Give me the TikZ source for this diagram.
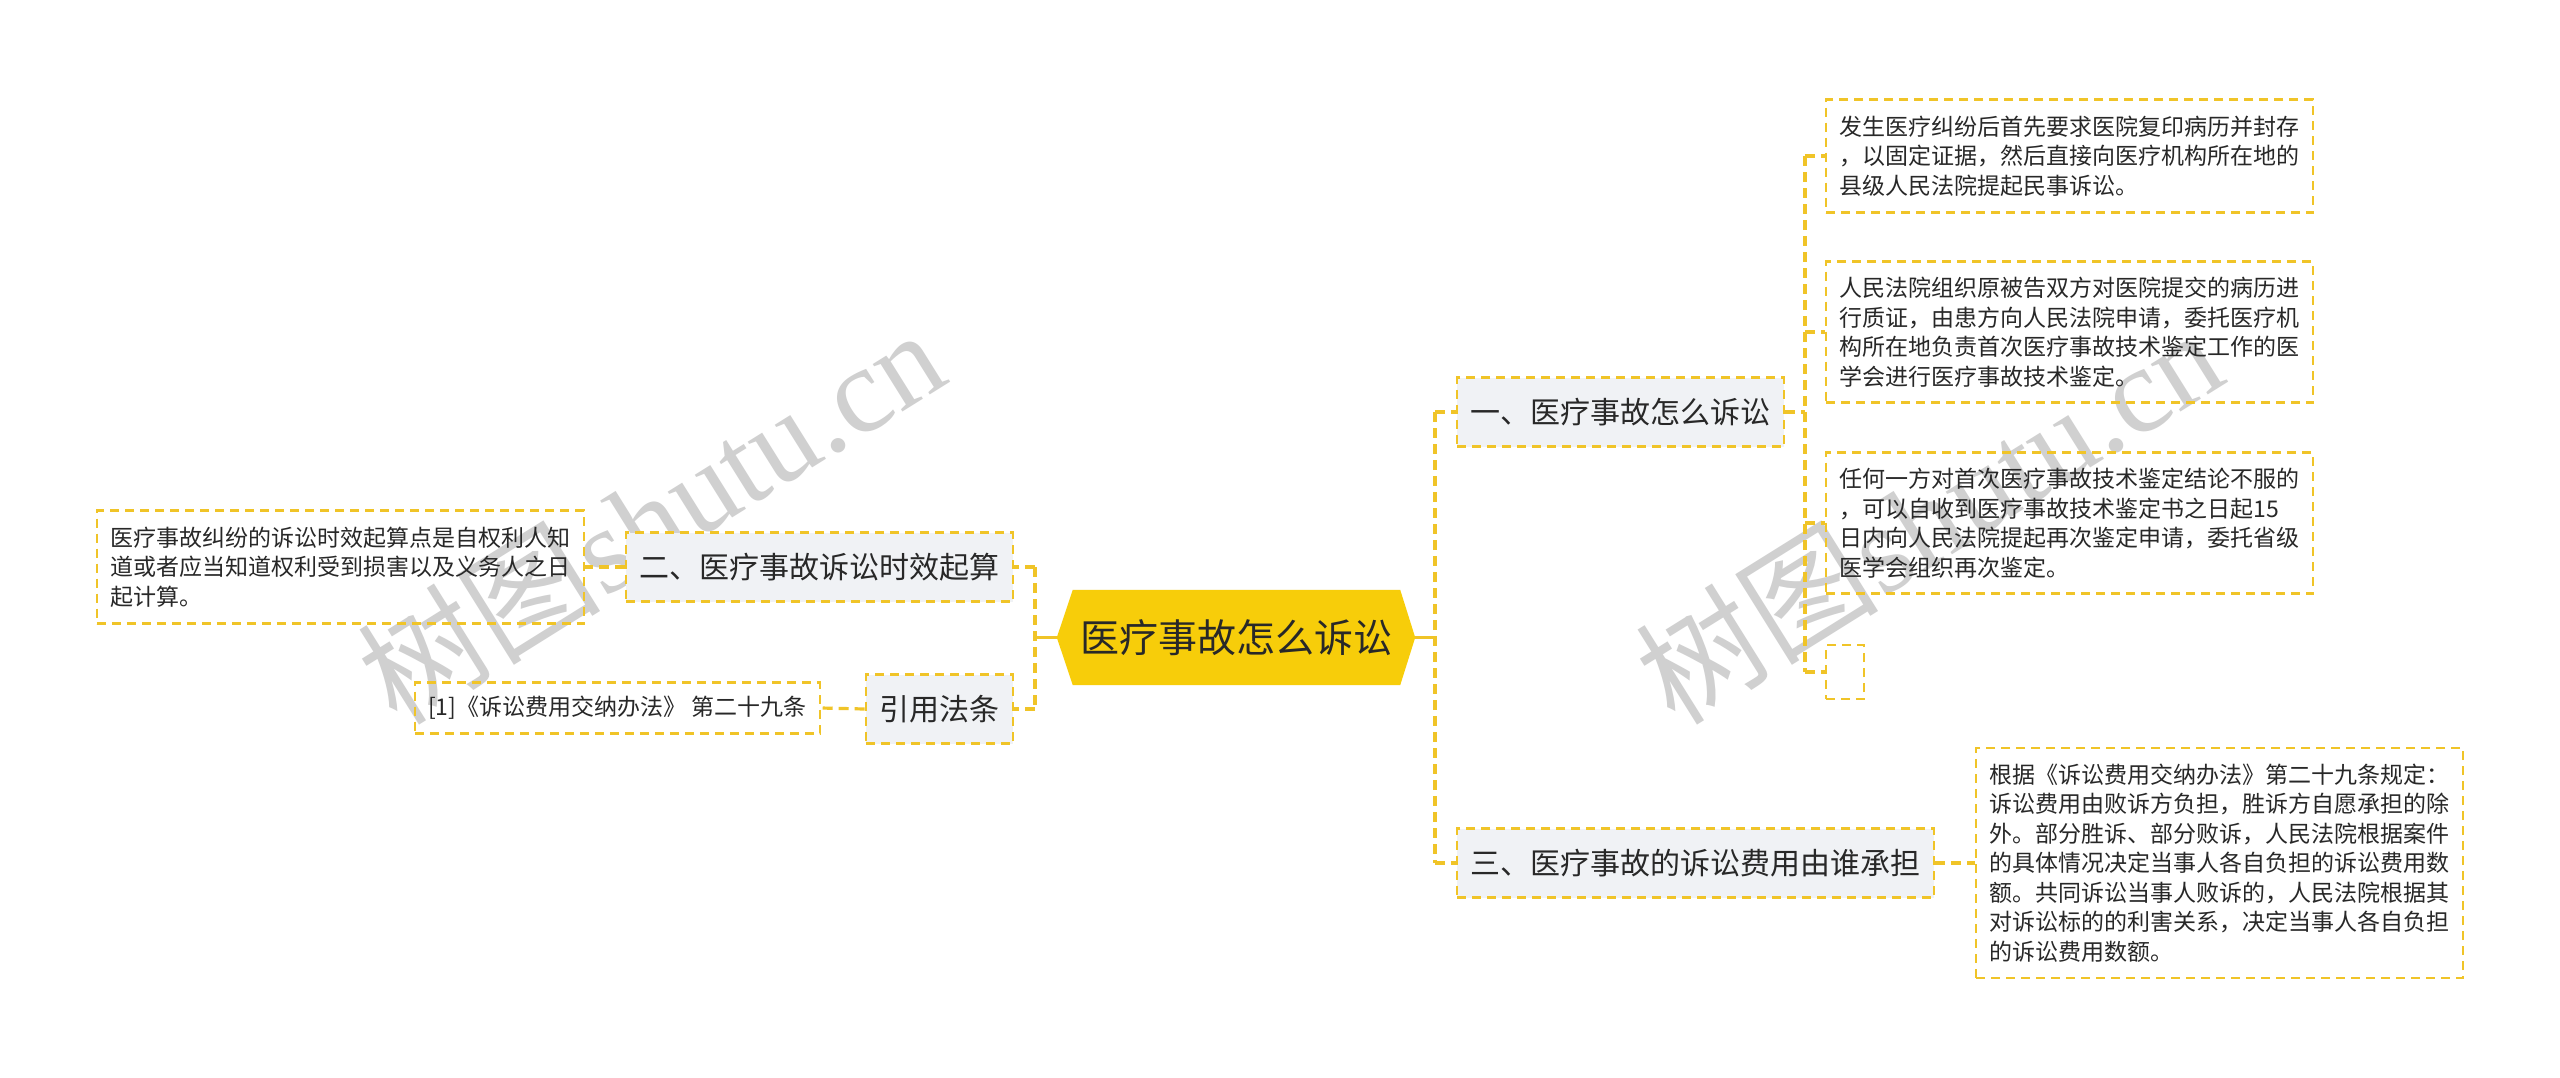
\documentclass[tikz,border=0pt]{standalone}
\usepackage{fontspec}
\setmainfont{Noto Sans CJK SC}
\newfontfamily\wmlatin{Liberation Serif}
\pgfdeclarelayer{wmlayer}
\pgfdeclarelayer{bglayer}
\pgfsetlayers{wmlayer,bglayer,main}
\definecolor{lineY}{RGB}{240,196,40}
\definecolor{rootY}{RGB}{247,205,10}
\definecolor{lgray}{RGB}{240,242,245}
\definecolor{txt}{RGB}{40,40,40}
\definecolor{wmgray}{RGB}{208,208,208}
\begin{document}
\begin{tikzpicture}[x=1pt,y=-1pt,
  conn/.style={draw=lineY, line width=3.2pt, dash pattern=on 10pt off 6pt},
  connsolid/.style={draw=lineY, line width=3.2pt},
  dbox/.style={draw=lineY, line width=2.3pt, dash pattern=on 9pt off 6pt},
  rootnode/.style={text=txt, font=\fontsize{39}{45}\selectfont, minimum width=358pt, minimum height=95pt, inner sep=0pt},
  lone/.style={dbox, fill=lgray, text=txt, font=\fontsize{30}{36}\selectfont, inner xsep=13.5pt, inner ysep=0pt, minimum height=69pt},
  leaf/.style={dbox, text=txt, font=\fontsize{23}{29.5}\selectfont, align=left, inner xsep=13pt, inner ysep=0pt, minimum width=487pt},
  wmark/.style={text=wmgray, font=\fontsize{122}{130}\selectfont, rotate=32, inner sep=0pt}
]
\useasboundingbox (0,0) rectangle (2560,1077);
\begin{pgfonlayer}{wmlayer}
\fill[white] (0,0) rectangle (2560,1077);
\node[wmark] (wm1) at (650,515) {树图{\wmlatin shutu.cn}};
\node[wmark] (wm2) at (1928,515) {树图{\wmlatin shutu.cn}};
\end{pgfonlayer}

% root
\node[rootnode] (root) at (1236,637.5) {医疗事故怎么诉讼};
\begin{pgfonlayer}{bglayer}
\fill[rootY] (root.west) -- ([xshift=16pt]root.north west) -- ([xshift=-15pt]root.north east) -- (root.east)
  -- ([xshift=-15pt]root.south east) -- ([xshift=16pt]root.south west) -- cycle;
\end{pgfonlayer}

% level one
\node[lone, anchor=west] (n1) at (1456,412) {一、医疗事故怎么诉讼};
\node[lone, anchor=west] (n3) at (1456,863) {三、医疗事故的诉讼费用由谁承担};
\node[lone, anchor=east] (n2) at (1014,567) {二、医疗事故诉讼时效起算};
\node[lone, anchor=east] (nref) at (1014,709) {引用法条};

% leaves
\node[leaf, anchor=west, minimum height=113pt] (c1) at (1825,156) {发生医疗纠纷后首先要求医院复印病历并封存\\，以固定证据，然后直接向医疗机构所在地的\\县级人民法院提起民事诉讼。};
\node[leaf, anchor=west, minimum height=141pt] (c2) at (1825,332) {人民法院组织原被告双方对医院提交的病历进\\行质证，由患方向人民法院申请，委托医疗机\\构所在地负责首次医疗事故技术鉴定工作的医\\学会进行医疗事故技术鉴定。};
\node[leaf, anchor=west, minimum height=141pt] (c3) at (1825,523) {任何一方对首次医疗事故技术鉴定结论不服的\\，可以自收到医疗事故技术鉴定书之日起15\\日内向人民法院提起再次鉴定申请，委托省级\\医学会组织再次鉴定。};
\node[dbox, anchor=west, minimum width=38pt, minimum height=54pt, inner sep=0pt] (c4) at (1825,672) {};
\node[leaf, anchor=west, minimum height=230pt] (c5) at (1975,863) {根据《诉讼费用交纳办法》第二十九条规定：\\诉讼费用由败诉方负担，胜诉方自愿承担的除\\外。部分胜诉、部分败诉，人民法院根据案件\\的具体情况决定当事人各自负担的诉讼费用数\\额。共同诉讼当事人败诉的，人民法院根据其\\对诉讼标的的利害关系，决定当事人各自负担\\的诉讼费用数额。};
\node[leaf, anchor=east, minimum height=113pt] (c6) at (585,567) {医疗事故纠纷的诉讼时效起算点是自权利人知\\道或者应当知道权利受到损害以及义务人之日\\起计算。};
\node[leaf, anchor=east, minimum width=405pt, minimum height=51pt] (c7) at (821,708) {[1]《诉讼费用交纳办法》 第二十九条};

% trunk coordinates
\coordinate (rt) at (1435,637.5);
\coordinate (ct) at (1805,412);
\coordinate (lt) at (1035,637.5);

% right of root
\draw[connsolid] (root.east) -- (rt);
\draw[conn] (rt |- n1.west) -- (rt |- n3.west);
\draw[conn] (rt |- n1.west) -- (n1.west);
\draw[conn] (rt |- n3.west) -- (n3.west);
% children of n1
\draw[conn] (n1.east) -- (ct);
\draw[conn] (ct |- c1.west) -- (ct |- c4.west);
\draw[conn] (ct |- c1.west) -- (c1.west);
\draw[conn] (ct |- c2.west) -- (c2.west);
\draw[conn] (ct |- c3.west) -- (c3.west);
\draw[conn] (ct |- c4.west) -- (c4.west);
% child of n3
\draw[conn] (n3.east) -- (c5.west);
% left of root
\draw[connsolid] (root.west) -- (lt);
\draw[conn] (lt |- n2.east) -- (lt |- nref.east);
\draw[conn] (lt |- n2.east) -- (n2.east);
\draw[conn] (lt |- nref.east) -- (nref.east);
\draw[conn] (n2.west) -- (c6.east);
\draw[conn] (nref.west) -- (c7.east);
\end{tikzpicture}
\end{document}
